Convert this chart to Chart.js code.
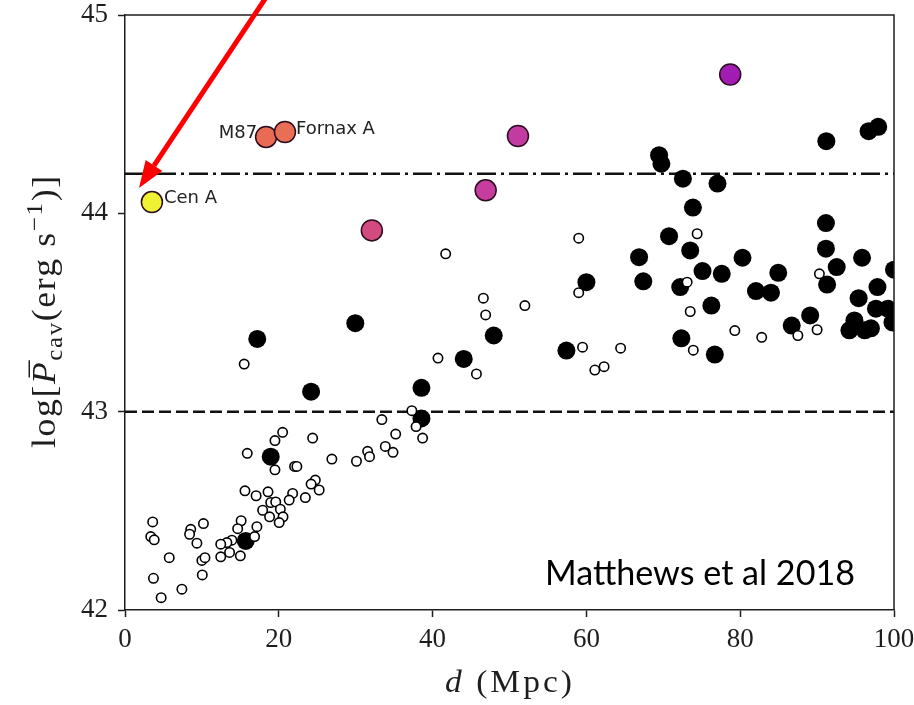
<!DOCTYPE html>
<html>
<head>
<meta charset="utf-8">
<script src="https://cdn.jsdelivr.net/npm/chart.js@4.4.1/dist/chart.umd.min.js"></script>
<style>
  html, body { margin: 0; padding: 0; background: #fff; }
  #wrap { width: 914px; height: 705px; }
</style>
</head>
<body>
<div id="wrap"><canvas id="chart" width="914" height="705"></canvas></div>
<script>
/* ── Data: distance d (Mpc) and log cavity power ── */

// small open circles
const openDist = [15.5, 40.7, 45.7, 37.3, 33.4, 37.85, 38.7, 35.2, 33.85, 34.85, 31.55, 31.8, 30.1, 26.9,
  24.4, 20.5, 19.5, 15.9, 19.5, 22.05, 22.35, 24.75, 24.2, 25.25, 21.8, 21.35, 23.45, 18.6, 17.05, 15.6,
  18.95, 19.6, 17.9, 20.2, 18.8, 20.55, 20.05, 15.1, 14.65, 17.15, 16.85, 13.9, 13.25, 12.45, 13.6, 15.0,
  12.45, 10.2, 8.55, 8.4, 9.35, 3.6, 3.35, 3.8, 5.75, 10.0, 10.4, 3.7, 10.05, 7.4, 4.7,
  41.7, 59.0, 74.4, 46.6, 46.9, 52.0, 59.0, 73.1, 73.5, 90.3, 59.5, 61.1, 62.3, 64.45, 73.9, 79.3, 82.8,
  87.5, 90.0];
const openPow = [43.24, 43.27, 43.19, 43.005, 42.96, 42.925, 42.867, 42.887, 42.825, 42.795, 42.80, 42.773, 42.75, 42.761,
  42.867, 42.896, 42.854, 42.79, 42.707, 42.724, 42.724, 42.655, 42.635, 42.605, 42.588, 42.554, 42.567, 42.596, 42.576, 42.601,
  42.542, 42.545, 42.503, 42.508, 42.47, 42.47, 42.441, 42.45, 42.41, 42.42, 42.37, 42.352, 42.34, 42.332, 42.29, 42.273,
  42.268, 42.436, 42.407, 42.382, 42.337, 42.444, 42.37, 42.354, 42.264, 42.25, 42.264, 42.16, 42.177, 42.105, 42.062,
  43.796, 43.875, 43.897, 43.572, 43.488, 43.535, 43.60, 43.653, 43.505, 43.695, 43.325, 43.21, 43.227, 43.32, 43.31, 43.409, 43.375,
  43.384, 43.413];

// large filled circles
const fillDist = [17.2, 29.95, 24.2, 18.95, 15.7, 38.55, 38.55, 44.05, 47.95, 57.4, 60.0, 66.85, 67.4,
  69.45, 69.75, 72.55, 77.05, 73.85, 70.75, 73.5, 75.1, 77.6, 72.2, 76.25, 72.35, 76.7, 80.3, 82.05,
  84.0, 84.95, 86.7, 89.1, 91.2, 91.15, 91.15, 92.55, 91.3, 95.85, 97.85, 95.4, 97.65, 99.2, 99.8,
  100.0, 94.2, 94.85, 96.2, 97.0, 96.7, 97.95];
const fillPow = [43.367, 43.446, 43.101, 42.773, 42.348, 43.12, 42.966, 43.266, 43.384, 43.308, 43.653, 43.779, 43.657,
  44.293, 44.25, 44.175, 44.15, 44.029, 43.885, 43.813, 43.709, 43.695, 43.628, 43.535, 43.37, 43.288, 43.776, 43.608,
  43.60, 43.70, 43.434, 43.485, 44.364, 43.951, 43.822, 43.729, 43.641, 43.776, 43.628, 43.572, 43.519, 43.519, 43.45,
  43.716, 43.41, 43.46, 43.41, 43.42, 44.414, 44.436];

// coloured, named sources
const namedDist = [3.5, 18.35, 20.8, 32.1, 46.9, 51.1, 78.7];
const namedPow = [44.057, 44.385, 44.41, 43.914, 44.116, 44.39, 44.70];
const namedLabels = ['Cen A', 'M87', 'Fornax A', '', '', '', ''];
const namedColors = ['#eef233', '#e96b54', '#e96e56', '#d24a80', '#c63c9f', '#c33ba1', '#a11cb2'];

const xTicks = [0, 20, 40, 60, 80, 100];
const yTicks = [42, 43, 44, 45];
const dashedLevel = 43;
const dashDotLevel = 44.2;

const INK = '#1e1e1e';
const SERIF = '"Liberation Serif", "DejaVu Serif", serif';

const toPts = (xs, ys) => xs.map((x, i) => ({ x, y: ys[i] }));
const hLine = v => [{ x: xTicks[0], y: v }, { x: xTicks[xTicks.length - 1], y: v }];

/* ── Text helpers: light stretch + letter spacing to mimic the wide TeX face ── */
function drawRuns(ctx, runs, left, base, targetW, stretch) {
  const k = stretch || 1;
  let w = 0, n = 0;
  runs.forEach(r => {
    ctx.font = r.font;
    r.chars = [...r.t].map(c => ctx.measureText(c).width * k);
    r.chars.forEach(cw => { w += cw; n++; });
  });
  const gap = n > 1 ? (targetW - w) / (n - 1) : 0;
  let x = left;
  runs.forEach(r => {
    ctx.font = r.font;
    [...r.t].forEach((c, j) => {
      ctx.save();
      ctx.translate(x, base + (r.dy || 0));
      ctx.scale(k, 1);
      ctx.fillText(c, 0, 0);
      ctx.restore();
      if (r.bar && j === 0) {
        ctx.beginPath();
        ctx.moveTo(x + r.bar[0], base + r.bar[2]);
        ctx.lineTo(x + r.bar[1], base + r.bar[2]);
        ctx.lineWidth = 1.5;
        ctx.strokeStyle = ctx.fillStyle;
        ctx.stroke();
      }
      x += r.chars[j] + gap;
    });
  });
}

/* ── Decorations: frame, titles, labels, arrow, credit ── */
const decor = {
  id: 'decor',
  afterDraw(chart) {
    const { ctx, chartArea: a, scales } = chart;
    ctx.save();

    // top + right frame
    ctx.strokeStyle = INK;
    ctx.lineWidth = 1.5;
    ctx.beginPath();
    ctx.moveTo(a.left, a.top);
    ctx.lineTo(a.right, a.top);
    ctx.lineTo(a.right, a.bottom);
    ctx.stroke();

    ctx.fillStyle = INK;
    ctx.textAlign = 'left';
    ctx.textBaseline = 'alphabetic';

    // y title
    ctx.save();
    ctx.translate(55, 312);
    ctx.rotate(-Math.PI / 2);
    const F = 33;
    drawRuns(ctx, [
      { t: 'log[', font: `${F}px ${SERIF}` },
      { t: 'P', font: `italic ${F}px ${SERIF}`, bar: [F * 0.2, F * 0.72, -F * 0.78] },
      { t: 'cav', font: `${F * 0.7}px ${SERIF}`, dy: F * 0.2 },
      { t: '(erg s', font: `${F}px ${SERIF}` },
      { t: '\u22121', font: `${F * 0.7}px ${SERIF}`, dy: -F * 0.4 },
      { t: ')]', font: `${F}px ${SERIF}` },
    ], -136, 0, 272, 1.08);
    ctx.restore();

    // x title
    drawRuns(ctx, [
      { t: 'd', font: `italic 31px ${SERIF}` },
      { t: ' (Mpc)', font: `31px ${SERIF}` },
    ], 445, 692, 127, 1.08);

    // source labels
    ctx.font = '18px "DejaVu Sans", sans-serif';
    ctx.fillStyle = '#222';
    const off = { 'Cen A': [12, 1, 'left'], 'M87': [-9, 1, 'right'], 'Fornax A': [11, 2, 'left'] };
    namedLabels.forEach((lab, i) => {
      if (!lab) return;
      const px = scales.x.getPixelForValue(namedDist[i]);
      const py = scales.y.getPixelForValue(namedPow[i]);
      const o = off[lab];
      ctx.textAlign = o[2];
      ctx.fillText(lab, px + o[0], py + o[1]);
    });

    // credit
    ctx.textAlign = 'left';
    ctx.fillStyle = '#000';
    ctx.font = '35px Lato, "Open Sans", sans-serif';
    const cw = ctx.measureText('Matthews et al 2018').width;
    ctx.save();
    ctx.translate(545, 585);
    ctx.scale(310 / cw, 1);
    ctx.fillText('Matthews et al 2018', 0, 0);
    ctx.restore();

    // red arrow pointing at Cen A
    const tip = [139, 188], tail = [267, -4];
    const ang = Math.atan2(tip[1] - tail[1], tip[0] - tail[0]);
    const hl = 27, hw = 10;
    const bx = tip[0] - hl * Math.cos(ang), by = tip[1] - hl * Math.sin(ang);
    ctx.strokeStyle = '#ff0000';
    ctx.fillStyle = '#ff0000';
    ctx.lineWidth = 5;
    ctx.beginPath();
    ctx.moveTo(tail[0], tail[1]);
    ctx.lineTo(bx, by);
    ctx.stroke();
    ctx.beginPath();
    ctx.moveTo(tip[0], tip[1]);
    ctx.lineTo(bx + hw * Math.sin(ang), by - hw * Math.cos(ang));
    ctx.lineTo(bx - hw * Math.sin(ang), by + hw * Math.cos(ang));
    ctx.closePath();
    ctx.fill();

    ctx.restore();
  },
};

function axisStyle(fit) {
  return {
    type: 'linear',
    grid: { drawOnChartArea: false, drawTicks: true, tickLength: 7, tickWidth: 1.5, tickColor: INK },
    border: { display: true, color: INK, width: 1.5 },
    afterFit: fit,
  };
}

new Chart(document.getElementById('chart'), {
  type: 'scatter',
  data: {
    datasets: [
      {
        label: 'open',
        data: toPts(openDist, openPow),
        pointRadius: 4.7,
        pointBackgroundColor: '#fff',
        pointBorderColor: '#000',
        pointBorderWidth: 1.6,
      },
      {
        label: 'named',
        data: toPts(namedDist, namedPow),
        pointRadius: 10.5,
        pointBackgroundColor: namedColors,
        pointBorderColor: '#2b0b1e',
        pointBorderWidth: 1.5,
      },
      {
        label: 'filled',
        data: toPts(fillDist, fillPow),
        pointRadius: 9,
        pointBackgroundColor: '#000',
        pointBorderWidth: 0,
        clip: 0,
      },
      {
        type: 'line',
        label: 'dashed',
        data: hLine(dashedLevel),
        borderColor: '#111',
        borderWidth: 2.5,
        borderDash: [12, 5],
        pointRadius: 0,
      },
      {
        type: 'line',
        label: 'dashdot',
        data: hLine(dashDotLevel),
        borderColor: '#111',
        borderWidth: 2.5,
        borderDash: [19, 5, 3, 5],
        pointRadius: 0,
      },
    ],
  },
  options: {
    responsive: false,
    animation: false,
    events: [],
    layout: { padding: { top: 15, right: 20, left: 0, bottom: 0 } },
    plugins: { legend: { display: false }, tooltip: { enabled: false } },
    scales: {
      x: {
        ...axisStyle(s => { s.height = 95; s.paddingLeft = 0; s.paddingRight = 0; }),
        min: xTicks[0],
        max: xTicks[xTicks.length - 1],
        afterBuildTicks: s => { s.ticks = xTicks.map(v => ({ value: v })); },
        ticks: { autoSkip: false, maxRotation: 0, padding: 7, color: INK, font: { family: SERIF, size: 27 } },
      },
      y: {
        ...axisStyle(s => { s.width = 125; s.paddingTop = 0; s.paddingBottom = 0; }),
        min: yTicks[0],
        max: yTicks[yTicks.length - 1],
        afterBuildTicks: s => { s.ticks = yTicks.map(v => ({ value: v })); },
        ticks: { autoSkip: false, padding: 10, color: INK, font: { family: SERIF, size: 27 } },
      },
    },
  },
  plugins: [decor],
});
</script>
</body>
</html>
